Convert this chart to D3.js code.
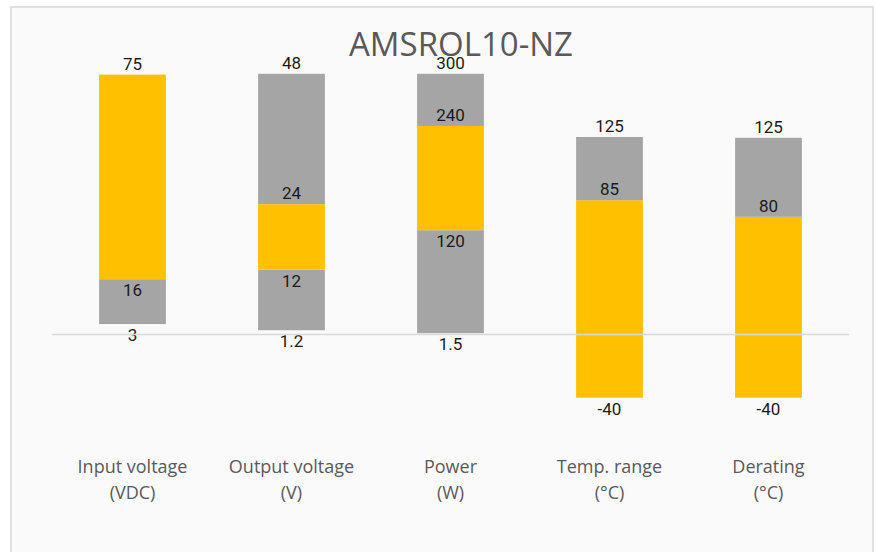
<!DOCTYPE html>
<html>
<head>
<meta charset="utf-8">
<script src="https://cdn.jsdelivr.net/npm/d3@7"></script>
<style>
  html, body { margin: 0; padding: 0; background: #fff; }
  svg { display: block; }
</style>
</head>
<body>
<svg id="chart" width="877" height="552"></svg>
<script>
// chart data
var title = "AMSROL10-NZ";
var categories = ["Input voltage|(VDC)", "Output voltage|(V)", "Power|(W)", "Temp. range|(°C)", "Derating|(°C)"];
// stack boundaries as plotted (chart units, bottom -> top)
var plotBounds = [
  [6.6, 35, 164.5],
  [2.7, 41, 82.5, 165],
  [0.8, 66, 132, 165],
  [-40, 85, 125],
  [-40, 74.5, 124.5]
];
// fill of the segment between each pair of boundaries
var segFills = [
  ["gray", "yellow"],
  ["gray", "yellow", "gray"],
  ["gray", "yellow", "gray"],
  ["yellow", "gray"],
  ["yellow", "gray"]
];
// data labels shown at each boundary
var boundLabels = [
  ["3", "16", "75"],
  ["1.2", "12", "24", "48"],
  ["1.5", "120", "240", "300"],
  ["-40", "85", "125"],
  ["-40", "80", "125"]
];
// -1 = label sits below the boundary, 1 = above
var labelSide = [
  [-1, -1, 1],
  [-1, -1, 1, 1],
  [-1, -1, 1, 1],
  [-1, 1, 1],
  [-1, 1, 1]
];

var colors = {gray: "#a5a5a5", yellow: "#ffc000"};

var svg = d3.select('#chart');

// chart frame
svg.append('rect')
  .attr('x', 11).attr('y', 7).attr('width', 862).attr('height', 560)
  .style('fill', '#fafafa').style('stroke', '#e0e0e0').style('stroke-width', 2);

svg.append('text').text(title)
  .attr('x', 461).attr('y', 56)
  .attr('text-anchor', 'middle')
  .style('font-family', '"Open Sans", sans-serif').style('font-size', '33px')
  .style('fill', '#595959');

var x = d3.scaleBand().domain(d3.range(categories.length)).range([53, 848]).paddingInner(0.58).paddingOuter(0.29);
var y = d3.scaleLinear().domain([-40, 125]).range([397.7, 137]);

var bars = svg.selectAll('g.bar').data(categories).enter().append('g').classed('bar', true)
  .attr('transform', function(d, i){ return 'translate(' + x(i) + ',0)'; });

bars.each(function(d, i){
  var g = d3.select(this),
    b = plotBounds[i];
  segFills[i].forEach(function(f, j){
    g.append('rect')
      .attr('x', 0).attr('width', x.bandwidth())
      .attr('y', y(b[j + 1])).attr('height', y(b[j]) - y(b[j + 1]))
      .style('fill', colors[f]);
  });
});

// horizontal axis line
svg.append('line')
  .attr('x1', 52).attr('x2', 849).attr('y1', y(0)).attr('y2', y(0))
  .style('stroke', '#d9d9d9').style('stroke-width', 1.5);

// data labels
bars.each(function(d, i){
  var g = d3.select(this);
  plotBounds[i].forEach(function(v, j){
    g.append('text').text(boundLabels[i][j])
      .attr('x', x.bandwidth() / 2)
      .attr('y', y(v) - labelSide[i][j] * 11)
      .attr('dy', '0.35em')
      .attr('text-anchor', 'middle')
      .style('font-family', 'Roboto, sans-serif').style('font-size', '17px')
      .style('fill', '#1a1a1a');
  });
});

// category labels
categories.forEach(function(c, i){
  var t = svg.append('text')
    .attr('text-anchor', 'middle')
    .style('font-family', '"Open Sans", sans-serif').style('font-size', '18px')
    .style('fill', '#595959');
  c.split('|').forEach(function(line, k){
    t.append('tspan').text(line)
      .attr('x', x(i) + x.bandwidth() / 2)
      .attr('y', 473 + k * 26);
  });
});
</script>
</body>
</html>
